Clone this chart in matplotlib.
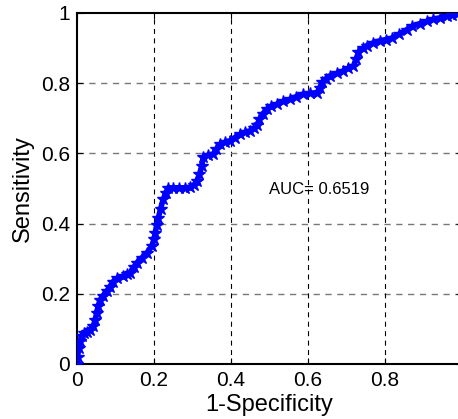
import matplotlib
matplotlib.use("Agg")
import matplotlib.pyplot as plt

# ROC curve points (1-Specificity, Sensitivity)
fpr = [0.000, 0.002, 0.004, 0.008, 0.012, 0.018, 0.025, 0.033, 0.042, 0.047,
       0.051, 0.055, 0.060, 0.068, 0.077, 0.085, 0.094, 0.105, 0.120, 0.130,
       0.138, 0.147, 0.155, 0.168, 0.181, 0.194, 0.200, 0.203, 0.207, 0.211,
       0.217, 0.224, 0.230, 0.237, 0.250, 0.265, 0.280, 0.294, 0.304, 0.311,
       0.318, 0.324, 0.328, 0.340, 0.354, 0.362, 0.371, 0.385, 0.397, 0.410,
       0.423, 0.436, 0.449, 0.460, 0.467, 0.474, 0.482, 0.493, 0.505, 0.519,
       0.535, 0.553, 0.570, 0.588, 0.605, 0.623, 0.630, 0.636, 0.647, 0.657,
       0.675, 0.692, 0.705, 0.718, 0.725, 0.731, 0.742, 0.753, 0.770, 0.787,
       0.802, 0.817, 0.837, 0.856, 0.870, 0.891, 0.908, 0.925, 0.942, 0.960,
       0.975, 0.986, 1.000]
tpr = [0.000, 0.020, 0.045, 0.065, 0.080, 0.088, 0.092, 0.098, 0.107, 0.125,
       0.145, 0.165, 0.183, 0.195, 0.207, 0.220, 0.235, 0.245, 0.250, 0.255,
       0.260, 0.275, 0.288, 0.302, 0.316, 0.335, 0.355, 0.373, 0.395, 0.415,
       0.442, 0.469, 0.487, 0.502, 0.502, 0.502, 0.502, 0.503, 0.510, 0.521,
       0.540, 0.564, 0.590, 0.595, 0.598, 0.612, 0.626, 0.632, 0.636, 0.645,
       0.654, 0.660, 0.664, 0.672, 0.680, 0.697, 0.712, 0.726, 0.735, 0.740,
       0.748, 0.754, 0.762, 0.769, 0.771, 0.773, 0.785, 0.802, 0.813, 0.821,
       0.828, 0.835, 0.842, 0.849, 0.868, 0.888, 0.899, 0.907, 0.915, 0.921,
       0.924, 0.928, 0.940, 0.952, 0.962, 0.970, 0.976, 0.982, 0.986, 0.990,
       0.995, 0.998, 1.000]
ticks = [0, 0.2, 0.4, 0.6, 0.8, 1]
tick_labels = ["0", "0.2", "0.4", "0.6", "0.8", "1"]
auc = 0.6519

plt.rcParams["font.family"] = ["Liberation Sans", "DejaVu Sans"]

fig = plt.figure(figsize=(4.58, 4.19), dpi=100)
ax = fig.add_axes([0.1681, 0.1313, 0.8406, 0.8377])

ax.plot(fpr, tpr, color="blue", marker="*", markersize=9, linewidth=4,
        markeredgewidth=1.0, zorder=3)
ax.text(0.5, 0.496, f"AUC= {auc}", fontsize=12, va="center", ha="left")

ax.set_xlim(0, 1)
ax.set_ylim(0, 1)
ax.set_xticks(ticks, tick_labels)
ax.set_yticks(ticks, tick_labels)
ax.tick_params(direction="in", length=4, labelsize=15, top=True, right=True,
               pad=5)

for t in ticks[1:-1]:
    ax.axvline(t, color="black", linestyle=(0, (4.5, 4)), linewidth=0.8,
               zorder=1)
    ax.axhline(t, color="#777777", linestyle=(0, (4.5, 4)), linewidth=1.0,
               zorder=1)

for s in ax.spines.values():
    s.set_linewidth(1.5)

ax.set_xlabel("1-Specificity", fontsize=17, labelpad=3)
ax.set_ylabel("Sensitivity", fontsize=17, labelpad=5)

fig.savefig("out.png", dpi=100)
